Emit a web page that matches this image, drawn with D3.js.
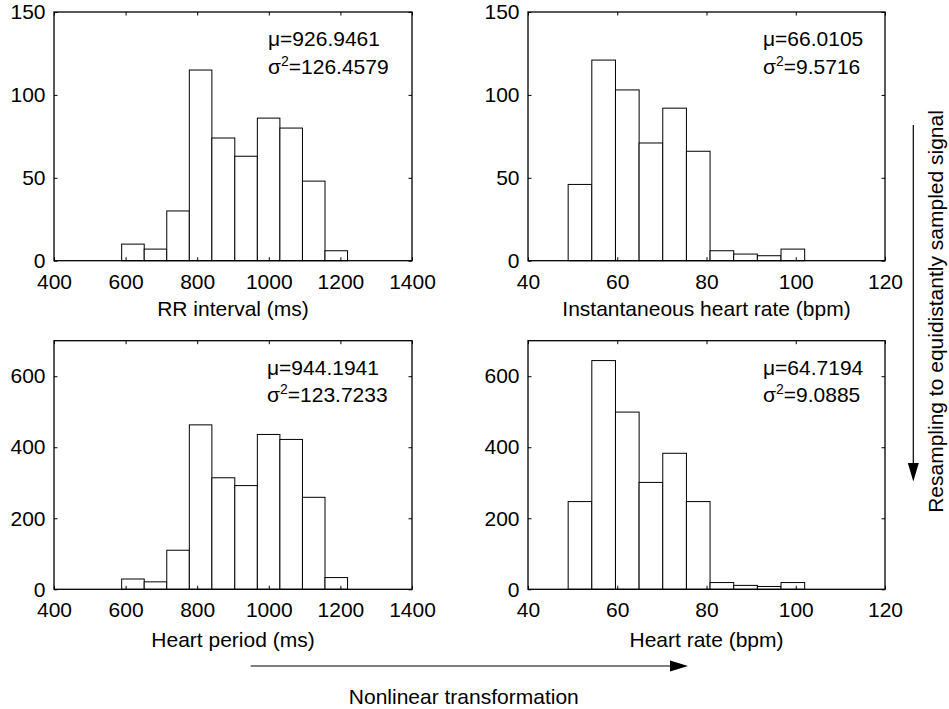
<html>
<head>
<meta charset="utf-8">
<script src="https://d3js.org/d3.v7.min.js"></script>
<style>
  body { margin: 0; background: #fff; }
  text { font-family: "Liberation Sans", Arial, sans-serif; fill: #000; }
</style>
</head>
<body>
<svg id="fig"></svg>
<script>
// histogram bin edges
const msEdges = [589, 652, 715, 778, 841, 905, 968, 1031, 1094, 1157, 1220];
const bpmEdges = [49.0, 54.3, 59.6, 64.9, 70.2, 75.5, 80.8, 86.1, 91.4, 96.7, 102.0];

// counts per bin
const rrCounts  = [10, 7, 30, 115, 74, 63, 86, 80, 48, 6];
const ihrCounts = [46, 121, 103, 71, 92, 66, 6, 4, 3, 7];
const hpCounts  = [29, 21, 110, 463, 314, 292, 436, 422, 259, 33];
const hrCounts  = [247, 644, 499, 301, 383, 247, 19, 11, 8, 19];

// axis ticks
const msTicks = [400, 600, 800, 1000, 1200, 1400];
const bpmTicks = [40, 60, 80, 100, 120];
const topYTicks = [0, 50, 100, 150];
const botYTicks = [0, 200, 400, 600];

const labels = ["RR interval (ms)", "Instantaneous heart rate (bpm)", "Heart period (ms)", "Heart rate (bpm)"];
const mus = ["926.9461", "66.0105", "944.1941", "64.7194"];
const sigmas = ["126.4579", "9.5716", "123.7233", "9.0885"];

const W = 949, H = 709, FS = 21;
const svg = d3.select("#fig").attr("width", W).attr("height", H);

const panels = [
  {x0: 54, x1: 412, y0: 260.7, y1: 12, xd: [400, 1400], yd: [0, 150], edges: msEdges, counts: rrCounts, xt: msTicks, yt: topYTicks, ann: 214, labOff: 55.5, lab: 0},
  {x0: 528, x1: 885, y0: 260.7, y1: 12, xd: [40, 120], yd: [0, 150], edges: bpmEdges, counts: ihrCounts, xt: bpmTicks, yt: topYTicks, ann: 235, labOff: 55.5, lab: 1},
  {x0: 54, x1: 412, y0: 589.3, y1: 340.7, xd: [400, 1400], yd: [0, 700], edges: msEdges, counts: hpCounts, xt: msTicks, yt: botYTicks, ann: 213, labOff: 58, lab: 2},
  {x0: 528, x1: 885, y0: 589.3, y1: 340.7, xd: [40, 120], yd: [0, 700], edges: bpmEdges, counts: hrCounts, xt: bpmTicks, yt: botYTicks, ann: 235, labOff: 58, lab: 3}
];

const fmt = d3.format("d");

panels.forEach(p => {
  const x = d3.scaleLinear().domain(p.xd).range([p.x0, p.x1]);
  const y = d3.scaleLinear().domain(p.yd).range([p.y0, p.y1]);
  const g = svg.append("g");

  // bars
  g.selectAll("rect.bar")
    .data(p.counts)
    .join("rect")
    .attr("class", "bar")
    .attr("x", (d, i) => x(p.edges[i]))
    .attr("width", (d, i) => x(p.edges[i + 1]) - x(p.edges[i]))
    .attr("y", d => y(d))
    .attr("height", d => y(0) - y(d))
    .attr("fill", "#fff")
    .attr("stroke", "#000")
    .attr("stroke-width", 1);

  // axes, ticks pointing inward like matlab
  g.append("g").attr("transform", `translate(0,${p.y0})`)
    .call(d3.axisBottom(x).tickValues(p.xt).tickFormat(fmt).tickSizeInner(-3.5).tickSizeOuter(0).tickPadding(13));
  g.append("g").attr("transform", `translate(${p.x0},0)`)
    .call(d3.axisLeft(y).tickValues(p.yt).tickFormat(fmt).tickSizeInner(-3.5).tickSizeOuter(0).tickPadding(8.5));
  g.append("g").attr("transform", `translate(0,${p.y1})`)
    .call(d3.axisTop(x).tickValues(p.xt).tickSizeInner(-3.5).tickSizeOuter(0).tickFormat(""));
  g.append("g").attr("transform", `translate(${p.x1},0)`)
    .call(d3.axisRight(y).tickValues(p.yt).tickSizeInner(-3.5).tickSizeOuter(0).tickFormat(""));

  g.selectAll(".domain").remove();
  g.selectAll(".tick line").attr("stroke", "#000").attr("stroke-width", 1);
  g.selectAll(".tick text")
    .attr("font-family", "Liberation Sans, Arial, sans-serif")
    .attr("font-size", FS)
    .attr("fill", "#000");

  // box
  g.append("rect")
    .attr("x", p.x0).attr("y", p.y1)
    .attr("width", p.x1 - p.x0).attr("height", p.y0 - p.y1)
    .attr("fill", "none").attr("stroke", "#000").attr("stroke-width", 1.3);

  // x label
  g.append("text")
    .attr("x", (p.x0 + p.x1) / 2)
    .attr("y", p.y0 + p.labOff)
    .attr("text-anchor", "middle")
    .attr("font-size", FS)
    .text(labels[p.lab]);

  // mean / variance note
  const tx = p.x0 + p.ann, ty = p.y1 + 34;
  g.append("text").attr("x", tx).attr("y", ty).attr("font-size", FS)
    .text("\u03bc=" + mus[p.lab]);
  const s = g.append("text").attr("x", tx).attr("y", ty + 27.5).attr("font-size", FS);
  s.append("tspan").text("\u03c3");
  s.append("tspan").attr("dy", -8).attr("font-size", 14).text("2");
  s.append("tspan").attr("dy", 8).text("=" + sigmas[p.lab]);
});

// horizontal arrow + caption
svg.append("line").attr("x1", 250.7).attr("x2", 672).attr("y1", 666).attr("y2", 666)
  .attr("stroke", "#000").attr("stroke-width", 1.2);
svg.append("path").attr("d", "M670,660.5 L688,666 L670,671.5 Z").attr("fill", "#000");
svg.append("text").attr("x", 463.8).attr("y", 704).attr("text-anchor", "middle")
  .attr("font-size", FS).text("Nonlinear transformation");

// vertical arrow + caption
svg.append("line").attr("x1", 913.3).attr("x2", 913.3).attr("y1", 125).attr("y2", 465)
  .attr("stroke", "#000").attr("stroke-width", 1.2);
svg.append("path").attr("d", "M907.8,463 L913.3,481.5 L918.8,463 Z").attr("fill", "#000");
svg.append("text")
  .attr("transform", "translate(943,311.5) rotate(-90)")
  .attr("text-anchor", "middle")
  .attr("font-size", FS)
  .text("Resampling to equidistantly sampled signal");
</script>
</body>
</html>
